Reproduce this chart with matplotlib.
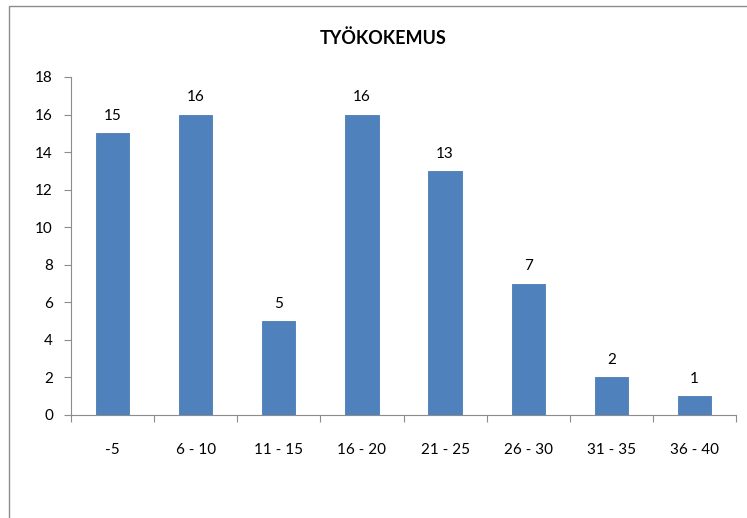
import matplotlib.pyplot as plt
from matplotlib.patches import Rectangle

categories = ['-5', '6 - 10', '11 - 15', '16 - 20', '21 - 25', '26 - 30', '31 - 35', '36 - 40']
counts = [15, 16, 5, 16, 13, 7, 2, 1]
title = 'TYÖKOKEMUS'

plt.rcParams['font.family'] = ['Lato', 'DejaVu Sans']

fig = plt.figure(figsize=(7.47, 5.18), dpi=100)
fig.patches.append(Rectangle((9 / 747, -0.1), 1.2, 1.1 - 6 / 518, transform=fig.transFigure,
                             fill=False, edgecolor='#8c8c8c', linewidth=1))
ax = fig.add_axes([71 / 747, 1 - 415 / 518, (736 - 71) / 747, (415 - 77) / 518])

x = range(len(categories))
bars = ax.bar(x, counts, width=0.4, color='#4f81bd', edgecolor='#4a7ab2', linewidth=0.6, zorder=2)
for xi, v in zip(x, counts):
    ax.text(xi, v + 0.55, str(v), ha='center', va='bottom', fontsize=11)

ax.set_xlim(-0.5, len(categories) - 0.5)
ax.set_ylim(0, 18)
ax.set_yticks(range(0, 19, 2))
ax.set_xticks([i - 0.5 for i in range(len(categories) + 1)], minor=False)
ax.set_xticklabels([])
ax.set_xticks(list(x), minor=True)
ax.set_xticklabels(categories, minor=True)
ax.tick_params(axis='x', which='major', length=5, color='#8c8c8c', direction='out')
ax.tick_params(axis='x', which='minor', length=0, pad=20, labelsize=11)
ax.tick_params(axis='y', length=5, color='#8c8c8c', labelsize=11, pad=8)

for s in ['top', 'right']:
    ax.spines[s].set_visible(False)
for s in ['left', 'bottom']:
    ax.spines[s].set_color('#8c8c8c')

fig.text(383 / 747, 1 - 38 / 518, title, ha='center', va='center', fontsize=13, fontweight='bold')

fig.savefig('out.png', dpi=100)
